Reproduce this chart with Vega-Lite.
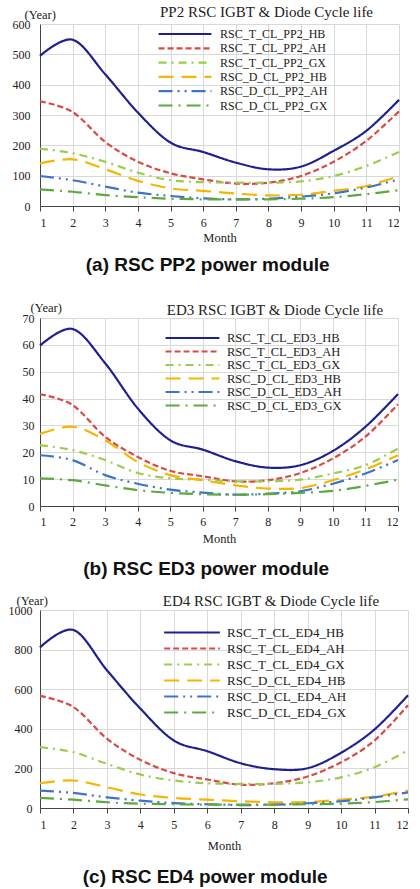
{
  "$schema": "https://vega.github.io/schema/vega-lite/v6.json",
  "background": "white",
  "padding": {"left": 8, "top": 5, "right": 0, "bottom": 0},
  "spacing": 26,
  "resolve": {"scale": {"color": "independent", "strokeDash": "independent"}, "legend": {"color": "independent", "strokeDash": "independent"}},
  "config": {
    "font": "Liberation Serif",
    "view": {"stroke": null},
    "axis": {
      "labelFont": "Liberation Serif", "labelFontSize": 12, "labelColor": "#222",
      "titleFont": "Liberation Serif", "titleFontSize": 12.5, "titleFontWeight": "normal", "titleColor": "#222",
      "gridColor": "#d9d9d9", "gridWidth": 1, "domainColor": "#444", "tickColor": "#444"
    },
    "legend": {
      "labelFont": "Liberation Serif", "labelColor": "#222"
    }
  },
  "datasets": {
    "pp2": [
      {"m": 1, "RSC_T_CL_PP2_HB": 495, "RSC_T_CL_PP2_AH": 345, "RSC_T_CL_PP2_GX": 189, "RSC_D_CL_PP2_HB": 140, "RSC_D_CL_PP2_AH": 99, "RSC_D_CL_PP2_GX": 55},
      {"m": 2, "RSC_T_CL_PP2_HB": 548, "RSC_T_CL_PP2_AH": 310, "RSC_T_CL_PP2_GX": 174, "RSC_D_CL_PP2_HB": 154, "RSC_D_CL_PP2_AH": 85, "RSC_D_CL_PP2_GX": 47},
      {"m": 3, "RSC_T_CL_PP2_HB": 434, "RSC_T_CL_PP2_AH": 211, "RSC_T_CL_PP2_GX": 146, "RSC_D_CL_PP2_HB": 121, "RSC_D_CL_PP2_AH": 64, "RSC_D_CL_PP2_GX": 36},
      {"m": 4, "RSC_T_CL_PP2_HB": 308, "RSC_T_CL_PP2_AH": 146, "RSC_T_CL_PP2_GX": 110, "RSC_D_CL_PP2_HB": 83, "RSC_D_CL_PP2_AH": 44, "RSC_D_CL_PP2_GX": 29},
      {"m": 5, "RSC_T_CL_PP2_HB": 209, "RSC_T_CL_PP2_AH": 108, "RSC_T_CL_PP2_GX": 85, "RSC_D_CL_PP2_HB": 58, "RSC_D_CL_PP2_AH": 33, "RSC_D_CL_PP2_GX": 24},
      {"m": 6, "RSC_T_CL_PP2_HB": 178, "RSC_T_CL_PP2_AH": 88, "RSC_T_CL_PP2_GX": 79, "RSC_D_CL_PP2_HB": 50, "RSC_D_CL_PP2_AH": 25, "RSC_D_CL_PP2_GX": 22},
      {"m": 7, "RSC_T_CL_PP2_HB": 143, "RSC_T_CL_PP2_AH": 74, "RSC_T_CL_PP2_GX": 77, "RSC_D_CL_PP2_HB": 41, "RSC_D_CL_PP2_AH": 22, "RSC_D_CL_PP2_GX": 22},
      {"m": 8, "RSC_T_CL_PP2_HB": 121, "RSC_T_CL_PP2_AH": 77, "RSC_T_CL_PP2_GX": 77, "RSC_D_CL_PP2_HB": 35, "RSC_D_CL_PP2_AH": 24, "RSC_D_CL_PP2_GX": 22},
      {"m": 9, "RSC_T_CL_PP2_HB": 130, "RSC_T_CL_PP2_AH": 99, "RSC_T_CL_PP2_GX": 81, "RSC_D_CL_PP2_HB": 37, "RSC_D_CL_PP2_AH": 31, "RSC_D_CL_PP2_GX": 24},
      {"m": 10, "RSC_T_CL_PP2_HB": 182, "RSC_T_CL_PP2_AH": 146, "RSC_T_CL_PP2_GX": 99, "RSC_D_CL_PP2_HB": 50, "RSC_D_CL_PP2_AH": 42, "RSC_D_CL_PP2_GX": 29},
      {"m": 11, "RSC_T_CL_PP2_HB": 248, "RSC_T_CL_PP2_AH": 215, "RSC_T_CL_PP2_GX": 132, "RSC_D_CL_PP2_HB": 66, "RSC_D_CL_PP2_AH": 61, "RSC_D_CL_PP2_GX": 39},
      {"m": 12, "RSC_T_CL_PP2_HB": 350, "RSC_T_CL_PP2_AH": 312, "RSC_T_CL_PP2_GX": 178, "RSC_D_CL_PP2_HB": 99, "RSC_D_CL_PP2_AH": 88, "RSC_D_CL_PP2_GX": 52}
    ],
    "ed3": [
      {"m": 1, "RSC_T_CL_ED3_HB": 59.7, "RSC_T_CL_ED3_AH": 41.6, "RSC_T_CL_ED3_GX": 22.7, "RSC_D_CL_ED3_HB": 26.8, "RSC_D_CL_ED3_AH": 18.9, "RSC_D_CL_ED3_GX": 10.3},
      {"m": 2, "RSC_T_CL_ED3_HB": 65.9, "RSC_T_CL_ED3_AH": 37.6, "RSC_T_CL_ED3_GX": 20.8, "RSC_D_CL_ED3_HB": 29.5, "RSC_D_CL_ED3_AH": 17.1, "RSC_D_CL_ED3_GX": 9.6},
      {"m": 3, "RSC_T_CL_ED3_HB": 53.2, "RSC_T_CL_ED3_AH": 25.8, "RSC_T_CL_ED3_GX": 17.1, "RSC_D_CL_ED3_HB": 24.5, "RSC_D_CL_ED3_AH": 11.5, "RSC_D_CL_ED3_GX": 7.7},
      {"m": 4, "RSC_T_CL_ED3_HB": 36.4, "RSC_T_CL_ED3_AH": 18.3, "RSC_T_CL_ED3_GX": 12.3, "RSC_D_CL_ED3_HB": 16.4, "RSC_D_CL_ED3_AH": 8.3, "RSC_D_CL_ED3_GX": 5.9},
      {"m": 5, "RSC_T_CL_ED3_HB": 24.5, "RSC_T_CL_ED3_AH": 13.1, "RSC_T_CL_ED3_GX": 10.3, "RSC_D_CL_ED3_HB": 11.5, "RSC_D_CL_ED3_AH": 6.1, "RSC_D_CL_ED3_GX": 4.9},
      {"m": 6, "RSC_T_CL_ED3_HB": 21.0, "RSC_T_CL_ED3_AH": 11.1, "RSC_T_CL_ED3_GX": 9.8, "RSC_D_CL_ED3_HB": 9.6, "RSC_D_CL_ED3_AH": 5.0, "RSC_D_CL_ED3_GX": 4.4},
      {"m": 7, "RSC_T_CL_ED3_HB": 16.7, "RSC_T_CL_ED3_AH": 9.2, "RSC_T_CL_ED3_GX": 9.2, "RSC_D_CL_ED3_HB": 7.7, "RSC_D_CL_ED3_AH": 4.2, "RSC_D_CL_ED3_GX": 4.2},
      {"m": 8, "RSC_T_CL_ED3_HB": 14.3, "RSC_T_CL_ED3_AH": 9.6, "RSC_T_CL_ED3_GX": 9.2, "RSC_D_CL_ED3_HB": 6.5, "RSC_D_CL_ED3_AH": 4.6, "RSC_D_CL_ED3_GX": 4.4},
      {"m": 9, "RSC_T_CL_ED3_HB": 15.2, "RSC_T_CL_ED3_AH": 12.3, "RSC_T_CL_ED3_GX": 9.8, "RSC_D_CL_ED3_HB": 6.7, "RSC_D_CL_ED3_AH": 5.5, "RSC_D_CL_ED3_GX": 4.9},
      {"m": 10, "RSC_T_CL_ED3_HB": 20.5, "RSC_T_CL_ED3_AH": 17.7, "RSC_T_CL_ED3_GX": 12.1, "RSC_D_CL_ED3_HB": 9.6, "RSC_D_CL_ED3_AH": 8.3, "RSC_D_CL_ED3_GX": 5.6},
      {"m": 11, "RSC_T_CL_ED3_HB": 29.5, "RSC_T_CL_ED3_AH": 25.8, "RSC_T_CL_ED3_GX": 15.2, "RSC_D_CL_ED3_HB": 13.6, "RSC_D_CL_ED3_AH": 12.1, "RSC_D_CL_ED3_GX": 7.5},
      {"m": 12, "RSC_T_CL_ED3_HB": 41.7, "RSC_T_CL_ED3_AH": 37.9, "RSC_T_CL_ED3_GX": 21.4, "RSC_D_CL_ED3_HB": 18.9, "RSC_D_CL_ED3_AH": 17.1, "RSC_D_CL_ED3_GX": 9.8}
    ],
    "ed4": [
      {"m": 1, "RSC_T_CL_ED4_HB": 811, "RSC_T_CL_ED4_AH": 566, "RSC_T_CL_ED4_GX": 307, "RSC_D_CL_ED4_HB": 125, "RSC_D_CL_ED4_AH": 88, "RSC_D_CL_ED4_GX": 51},
      {"m": 2, "RSC_T_CL_ED4_HB": 899, "RSC_T_CL_ED4_AH": 510, "RSC_T_CL_ED4_GX": 282, "RSC_D_CL_ED4_HB": 139, "RSC_D_CL_ED4_AH": 76, "RSC_D_CL_ED4_GX": 42},
      {"m": 3, "RSC_T_CL_ED4_HB": 696, "RSC_T_CL_ED4_AH": 350, "RSC_T_CL_ED4_GX": 223, "RSC_D_CL_ED4_HB": 105, "RSC_D_CL_ED4_AH": 54, "RSC_D_CL_ED4_GX": 29},
      {"m": 4, "RSC_T_CL_ED4_HB": 502, "RSC_T_CL_ED4_AH": 243, "RSC_T_CL_ED4_GX": 169, "RSC_D_CL_ED4_HB": 68, "RSC_D_CL_ED4_AH": 37, "RSC_D_CL_ED4_GX": 22},
      {"m": 5, "RSC_T_CL_ED4_HB": 341, "RSC_T_CL_ED4_AH": 176, "RSC_T_CL_ED4_GX": 139, "RSC_D_CL_ED4_HB": 51, "RSC_D_CL_ED4_AH": 25, "RSC_D_CL_ED4_GX": 19},
      {"m": 6, "RSC_T_CL_ED4_HB": 287, "RSC_T_CL_ED4_AH": 144, "RSC_T_CL_ED4_GX": 125, "RSC_D_CL_ED4_HB": 42, "RSC_D_CL_ED4_AH": 19, "RSC_D_CL_ED4_GX": 17},
      {"m": 7, "RSC_T_CL_ED4_HB": 226, "RSC_T_CL_ED4_AH": 118, "RSC_T_CL_ED4_GX": 122, "RSC_D_CL_ED4_HB": 34, "RSC_D_CL_ED4_AH": 15, "RSC_D_CL_ED4_GX": 17},
      {"m": 8, "RSC_T_CL_ED4_HB": 196, "RSC_T_CL_ED4_AH": 125, "RSC_T_CL_ED4_GX": 122, "RSC_D_CL_ED4_HB": 29, "RSC_D_CL_ED4_AH": 17, "RSC_D_CL_ED4_GX": 17},
      {"m": 9, "RSC_T_CL_ED4_HB": 201, "RSC_T_CL_ED4_AH": 159, "RSC_T_CL_ED4_GX": 130, "RSC_D_CL_ED4_HB": 30, "RSC_D_CL_ED4_AH": 24, "RSC_D_CL_ED4_GX": 19},
      {"m": 10, "RSC_T_CL_ED4_HB": 279, "RSC_T_CL_ED4_AH": 231, "RSC_T_CL_ED4_GX": 155, "RSC_D_CL_ED4_HB": 42, "RSC_D_CL_ED4_AH": 34, "RSC_D_CL_ED4_GX": 22},
      {"m": 11, "RSC_T_CL_ED4_HB": 397, "RSC_T_CL_ED4_AH": 341, "RSC_T_CL_ED4_GX": 206, "RSC_D_CL_ED4_HB": 57, "RSC_D_CL_ED4_AH": 54, "RSC_D_CL_ED4_GX": 30},
      {"m": 12, "RSC_T_CL_ED4_HB": 569, "RSC_T_CL_ED4_AH": 519, "RSC_T_CL_ED4_GX": 291, "RSC_D_CL_ED4_HB": 88, "RSC_D_CL_ED4_AH": 79, "RSC_D_CL_ED4_GX": 44}
    ]
  },
  "vconcat": [
    {
      "resolve": {"scale": {"color": "independent", "strokeDash": "independent"}, "legend": {"color": "independent", "strokeDash": "independent"}},
      "title": {"text": "(a) RSC PP2 power module", "orient": "bottom", "anchor": "middle", "dx": 0, "offset": 12, "font": "Liberation Sans", "fontSize": 19, "fontWeight": "bold", "color": "#111"},
      "vconcat": [
        {
          "title": {"text": "PP2 RSC IGBT & Diode Cycle life", "frame": "group", "anchor": "middle", "dx": 47, "offset": -12, "font": "Liberation Serif", "fontSize": 15, "fontWeight": "normal", "color": "#222"},
          "width": 359, "height": 182,
          "data": {"name": "pp2"},
          "transform": [{"fold": ["RSC_T_CL_PP2_HB", "RSC_T_CL_PP2_AH", "RSC_T_CL_PP2_GX", "RSC_D_CL_PP2_HB", "RSC_D_CL_PP2_AH", "RSC_D_CL_PP2_GX"], "as": ["s", "v"]}],
          "mark": {"type": "line", "interpolate": "cardinal", "strokeWidth": 2.2},
          "encoding": {
            "x": {"field": "m", "type": "quantitative", "scale": {"domain": [1, 12], "nice": false, "zero": false},
                  "axis": {"values": [1,2,3,4,5,6,7,8,9,10,11,12], "title": "Month", "tickSize": 5, "labelPadding": 6, "titlePadding": 3}},
            "y": {"field": "v", "type": "quantitative", "scale": {"domain": [0, 600], "nice": false},
                  "axis": {"values": [0,100,200,300,400,500,600], "format": "d", "title": "(Year)", "titleAngle": 0, "titleX": -16, "titleY": -10, "titleAlign": "left", "titleBaseline": "middle", "ticks": false, "labelPadding": 10}},
            "color": {"field": "s", "type": "nominal",
                      "scale": {"domain": ["RSC_T_CL_PP2_HB", "RSC_T_CL_PP2_AH", "RSC_T_CL_PP2_GX", "RSC_D_CL_PP2_HB", "RSC_D_CL_PP2_AH", "RSC_D_CL_PP2_GX"], "range": ["#1f2090", "#d94a45", "#9ccc4c", "#f7b500", "#3c74cc", "#5fa83f"]},
                      "legend": {"title": null, "orient": "none", "legendX": 117, "legendY": 4, "symbolType": "stroke", "symbolSize": 2800, "clipHeight": 12, "symbolStrokeWidth": 2.2, "labelFont": "Liberation Serif", "labelFontSize": 12, "labelOffset": 7, "rowPadding": 2.3, "padding": 0, "labelLimit": 300}},
            "strokeDash": {"field": "s", "type": "nominal",
                      "scale": {"domain": ["RSC_T_CL_PP2_HB", "RSC_T_CL_PP2_AH", "RSC_T_CL_PP2_GX", "RSC_D_CL_PP2_HB", "RSC_D_CL_PP2_AH", "RSC_D_CL_PP2_GX"], "range": [[1, 0], [6, 3], [8, 5, 2, 5], [15, 8], [14, 5, 2, 5, 2, 5], [14, 6, 2, 6]]},
                      "legend": {"title": null, "orient": "none", "legendX": 117, "legendY": 4, "symbolType": "stroke", "symbolSize": 2800, "clipHeight": 12, "symbolStrokeWidth": 2.2, "labelFont": "Liberation Serif", "labelFontSize": 12, "labelOffset": 7, "rowPadding": 2.3, "padding": 0, "labelLimit": 300}}
          }
        }
      ]
    },
    {
      "spacing": 15,
      "resolve": {"scale": {"color": "independent", "strokeDash": "independent"}, "legend": {"color": "independent", "strokeDash": "independent"}},
      "vconcat": [
        {
          "resolve": {"scale": {"color": "independent", "strokeDash": "independent"}, "legend": {"color": "independent", "strokeDash": "independent"}},
          "title": {"text": "(b) RSC ED3 power module", "orient": "bottom", "anchor": "middle", "dx": -6, "offset": 15, "font": "Liberation Sans", "fontSize": 19, "fontWeight": "bold", "color": "#111"},
          "vconcat": [
            {
              "title": {"text": "ED3 RSC IGBT & Diode Cycle life", "frame": "group", "anchor": "middle", "dx": 56, "offset": -17, "font": "Liberation Serif", "fontSize": 15, "fontWeight": "normal", "color": "#222"},
              "width": 358, "height": 188,
              "data": {"name": "ed3"},
              "transform": [{"fold": ["RSC_T_CL_ED3_HB", "RSC_T_CL_ED3_AH", "RSC_T_CL_ED3_GX", "RSC_D_CL_ED3_HB", "RSC_D_CL_ED3_AH", "RSC_D_CL_ED3_GX"], "as": ["s", "v"]}],
              "mark": {"type": "line", "interpolate": "cardinal", "strokeWidth": 2.2},
              "encoding": {
                "x": {"field": "m", "type": "quantitative", "scale": {"domain": [1, 12], "nice": false, "zero": false},
                      "axis": {"values": [1,2,3,4,5,6,7,8,9,10,11,12], "title": "Month", "tickSize": 5, "labelPadding": 5, "titlePadding": 5}},
                "y": {"field": "v", "type": "quantitative", "scale": {"domain": [0, 70], "nice": false},
                      "axis": {"values": [0,10,20,30,40,50,60,70], "format": "d", "title": "(Year)", "titleAngle": 0, "titleX": -10, "titleY": -11, "titleAlign": "left", "titleBaseline": "middle", "ticks": false, "labelPadding": 6}},
                "color": {"field": "s", "type": "nominal",
                          "scale": {"domain": ["RSC_T_CL_ED3_HB", "RSC_T_CL_ED3_AH", "RSC_T_CL_ED3_GX", "RSC_D_CL_ED3_HB", "RSC_D_CL_ED3_AH", "RSC_D_CL_ED3_GX"], "range": ["#1f2090", "#d94a45", "#9ccc4c", "#f7b500", "#3c74cc", "#5fa83f"]},
                          "legend": {"title": null, "orient": "none", "legendX": 124, "legendY": 14, "symbolType": "stroke", "symbolSize": 2900, "clipHeight": 12, "symbolStrokeWidth": 2.2, "labelFont": "Liberation Serif", "labelFontSize": 12.5, "labelOffset": 6, "rowPadding": 0.5, "padding": 0, "labelLimit": 300}},
                "strokeDash": {"field": "s", "type": "nominal",
                          "scale": {"domain": ["RSC_T_CL_ED3_HB", "RSC_T_CL_ED3_AH", "RSC_T_CL_ED3_GX", "RSC_D_CL_ED3_HB", "RSC_D_CL_ED3_AH", "RSC_D_CL_ED3_GX"], "range": [[1, 0], [6, 3], [8, 5, 2, 5], [15, 8], [14, 5, 2, 5, 2, 5], [14, 6, 2, 6]]},
                          "legend": {"title": null, "orient": "none", "legendX": 124, "legendY": 14, "symbolType": "stroke", "symbolSize": 2900, "clipHeight": 12, "symbolStrokeWidth": 2.2, "labelFont": "Liberation Serif", "labelFontSize": 12.5, "labelOffset": 6, "rowPadding": 0.5, "padding": 0, "labelLimit": 300}}
              }
            }
          ]
        },
        {
          "resolve": {"scale": {"color": "independent", "strokeDash": "independent"}, "legend": {"color": "independent", "strokeDash": "independent"}},
          "title": {"text": "(c) RSC ED4 power module", "orient": "bottom", "anchor": "middle", "dx": -5, "offset": 16, "font": "Liberation Sans", "fontSize": 19, "fontWeight": "bold", "color": "#111"},
          "vconcat": [
            {
              "title": {"text": "ED4 RSC IGBT & Diode Cycle life", "frame": "group", "anchor": "middle", "dx": 47, "offset": -15, "font": "Liberation Serif", "fontSize": 15, "fontWeight": "normal", "color": "#222"},
              "width": 368, "height": 198,
              "data": {"name": "ed4"},
              "transform": [{"fold": ["RSC_T_CL_ED4_HB", "RSC_T_CL_ED4_AH", "RSC_T_CL_ED4_GX", "RSC_D_CL_ED4_HB", "RSC_D_CL_ED4_AH", "RSC_D_CL_ED4_GX"], "as": ["s", "v"]}],
              "mark": {"type": "line", "interpolate": "cardinal", "strokeWidth": 2.2},
              "encoding": {
                "x": {"field": "m", "type": "quantitative", "scale": {"domain": [1, 12], "nice": false, "zero": false},
                      "axis": {"values": [1,2,3,4,5,6,7,8,9,10,11,12], "title": "Month", "tickSize": 5, "labelPadding": 6, "titlePadding": 9}},
                "y": {"field": "v", "type": "quantitative", "scale": {"domain": [0, 1000], "nice": false},
                      "axis": {"values": [0,200,400,600,800,1000], "format": "d", "title": "(Year)", "titleAngle": 0, "titleX": -24, "titleY": -10, "titleAlign": "left", "titleBaseline": "middle", "ticks": false, "labelPadding": 8}},
                "color": {"field": "s", "type": "nominal",
                          "scale": {"domain": ["RSC_T_CL_ED4_HB", "RSC_T_CL_ED4_AH", "RSC_T_CL_ED4_GX", "RSC_D_CL_ED4_HB", "RSC_D_CL_ED4_AH", "RSC_D_CL_ED4_GX"], "range": ["#1f2090", "#d94a45", "#9ccc4c", "#f7b500", "#3c74cc", "#5fa83f"]},
                          "legend": {"title": null, "orient": "none", "legendX": 123, "legendY": 16, "symbolType": "stroke", "symbolSize": 3100, "clipHeight": 13, "symbolStrokeWidth": 2.2, "labelFont": "Liberation Serif", "labelFontSize": 13, "labelOffset": 6, "rowPadding": 2, "padding": 0, "labelLimit": 300}},
                "strokeDash": {"field": "s", "type": "nominal",
                          "scale": {"domain": ["RSC_T_CL_ED4_HB", "RSC_T_CL_ED4_AH", "RSC_T_CL_ED4_GX", "RSC_D_CL_ED4_HB", "RSC_D_CL_ED4_AH", "RSC_D_CL_ED4_GX"], "range": [[1, 0], [6, 3], [8, 5, 2, 5], [15, 8], [14, 5, 2, 5, 2, 5], [14, 6, 2, 6]]},
                          "legend": {"title": null, "orient": "none", "legendX": 123, "legendY": 16, "symbolType": "stroke", "symbolSize": 3100, "clipHeight": 13, "symbolStrokeWidth": 2.2, "labelFont": "Liberation Serif", "labelFontSize": 13, "labelOffset": 6, "rowPadding": 2, "padding": 0, "labelLimit": 300}}
              }
            }
          ]
        }
      ]
    }
  ]
}
